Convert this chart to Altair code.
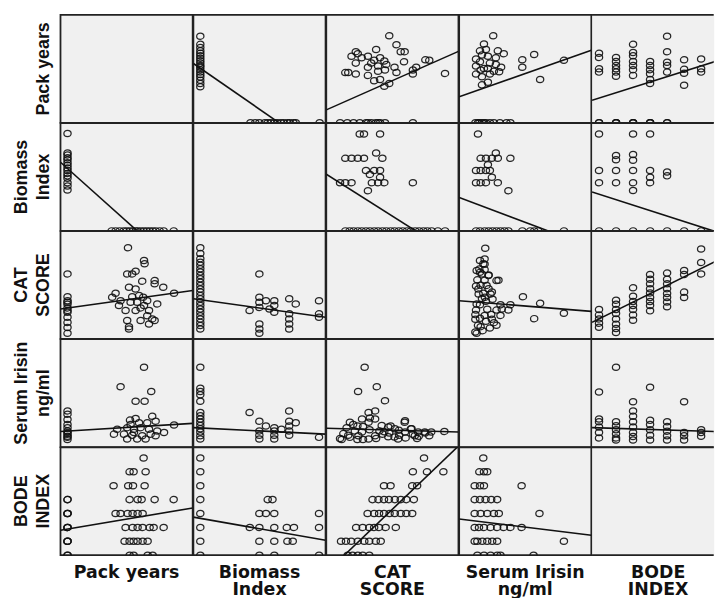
import altair as alt
import pandas as pd

# ---------------- values ----------------
VARS = ["P", "B", "C", "I", "D"]
LABELS = {
    "P": ["Pack years"],
    "B": ["Biomass", "Index"],
    "C": ["CAT", "SCORE"],
    "I": ["Serum Irisin", "ng/ml"],
    "D": ["BODE", "INDEX"],
}

# shown value range of each variable (vertical / horizontal use)
Y_DOMAIN = {"P": [0, 66], "B": [0, 221.6], "C": [0.9, 41.2], "I": [0, 20], "D": [0, 7.77]}
X_DOMAIN = {"P": [-3.5, 62.5], "B": [-11.6, 210], "C": [-1.2, 39.1], "I": [-1.05, 18.95], "D": [-0.41, 7.36]}
X_DOMAIN_LAST_VISIBLE = [-0.41, 6.74]   # right column is cut by the picture edge

# --- Pack years vs Biomass index
NONSMOKER_BIOMASS = [200, 160, 156, 150, 146, 140, 135, 129, 124, 118, 113, 108, 99, 92, 84]
SMOKER_PACK = [22, 24, 26, 28, 29.5, 31, 32.5, 34, 35, 36.5, 38, 39.5, 41, 42.5, 44, 46, 48, 53]

# --- Pack years vs CAT
NONSMOKER_CAT = [25.2, 16.7, 15.2, 13.9, 12.5, 10.9, 9.0, 7.1, 5.2, 3.0, 14.6, 11.5]
PC_PACK = [30.2, 38.2, 38.5, 29.8, 32.3, 34, 37.3, 43.5, 43.5, 47.8, 30.7, 34, 24, 22.3, 26.5,
           32.3, 35.7, 37.8, 39.8, 34.8, 31.5, 25.7, 29, 34, 36.5, 40.7, 39.8, 42.3, 43.5, 29.8,
           36.5, 40.7, 30.7, 30.7, 53.2, 44.8, 38.2]
PC_CAT = [35, 30.2, 29, 25.2, 25.2, 26.2, 22.5, 22.7, 21.5, 20.2, 20.2, 19.6, 18, 16.5, 15.2,
          16.7, 17.1, 16.5, 15.2, 14.6, 14.6, 13.4, 11.5, 11.5, 12.5, 11.5, 9.6, 8.4, 7.8, 7.8,
          7.8, 6.5, 5.5, 4.6, 18, 14, 13.4]

# --- Pack years vs Irisin
NONSMOKER_IRISIN = [6.7, 6.1, 5.1, 4.2, 3.6, 3.0, 2.4, 1.8, 1.4, 2.0, 2.7]
PI_PACK = [38.2, 26.5, 41.8, 34, 38.5, 31.2, 34, 42.3, 53.2, 35.7, 39.8, 44, 24.8, 29.8, 33.2,
           36.5, 40.7, 44.8, 48.2, 23.2, 28.2, 32.3, 37.3, 41.5, 44, 29.8, 34.8, 39, 33.2, 31.5]
PI_IRISIN = [14.8, 11.2, 10.3, 8.5, 8.5, 5.0, 5.3, 5.7, 4.1, 4.5, 4.5, 4.8, 3.3, 3.6, 3.3,
             3.6, 3.3, 3.0, 2.7, 2.4, 2.4, 2.2, 2.1, 2.4, 2.1, 1.5, 1.5, 1.5, 2.7, 4.2]

# --- Pack years vs BODE
NONSMOKER_BODE = [4, 4, 3, 3, 3, 2, 2, 2, 1, 1, 1, 0, 0]
PD_PACK = [38, 31, 33, 39, 23, 30.3, 32.7, 38.5, 31, 35, 37, 43.5, 53, 24, 26.5, 30, 32.5, 35,
           37.5, 29, 32.5, 35, 37.5, 41, 43, 48, 28.5, 31, 33, 35, 37.5, 40, 31, 33, 40, 42.5]
PD_BODE = [7, 6, 6, 6, 5, 5, 5, 5, 4, 4, 4, 4, 4, 3, 3, 3, 3, 3, 3, 2, 2, 2, 2, 2, 2, 2,
           1, 1, 1, 1, 1, 1, 0, 0, 0, 0]

# --- Biomass vs CAT
BC_BIOMASS = [99, 82.6, 99, 99, 99, 110, 124, 124, 124, 99, 99, 99, 149, 160, 149, 149, 149, 149,
              199, 199, 199, 116]
BC_CAT = [25.2, 11.5, 16.5, 14.6, 12.7, 15.2, 15.2, 13.4, 10.9, 6.5, 4.6, 3.0, 15.9, 14, 10.3, 8.4,
          6.5, 4.6, 15.2, 10.3, 9.0, 12.1]
SMOKER_CAT = [35, 32.8, 30.9, 29.6, 28.4, 27.1, 25.9, 24.6, 23.4, 22.1, 20.9, 19.6, 18.4, 17.1,
              15.9, 14.6, 13.4, 12.1, 10.9, 9.6, 8.4, 7.1, 5.9, 4.6]

# --- Biomass vs Irisin
BI_BIOMASS = [82.6, 99, 110, 124, 99, 99, 99, 124, 124, 124, 149, 149, 149, 149, 149, 160, 199, 136]
BI_IRISIN = [6.4, 4.8, 3.9, 3.6, 3.0, 2.2, 1.5, 3.0, 2.2, 1.5, 6.7, 4.8, 3.9, 3.0, 2.2, 4.5, 1.8, 3.3]
SMOKER_IRISIN = [14.8, 10.9, 10.3, 9.7, 8.5, 6.4, 5.8, 5.2, 4.6, 4.0, 3.4, 2.8, 2.1, 1.5]

# --- Biomass vs BODE
BD_BIOMASS = [113, 121, 99, 110, 124, 199, 83, 99, 124, 145, 157, 199, 99, 124, 146, 155, 99, 124, 199]
BD_BODE = [4, 4, 3, 3, 3, 3, 2, 2, 2, 2, 2, 2, 1, 1, 1, 1, 0, 0, 0]
SMOKER_BODE = [0, 1, 2, 3, 4, 5, 6, 7]

# --- CAT vs Irisin
CI_CAT = [10.5, 14.2, 8.5, 16.7, 11.7, 13.7, 9.7, 11.7, 13.7, 15.7, 17.7, 19.7, 22.8, 24.8, 26.8,
          28.8, 30.8, 34.8, 25.8, 22.8, 17.7, 13.7, 9.7, 11.7, 20.7, 8.6, 4, 5, 6, 7, 5.5, 3, 7.5,
          30.2, 29, 26.5, 25.2, 24.6, 22.7, 6, 3.5, 8.3, 8.3, 12.1, 16.5, 18.4, 19.6, 20.9,
          10, 14, 16, 12, 18, 21, 15, 10, 23, 27]
CI_IRISIN = [14.8, 11.2, 10.3, 8.6, 6.4, 6.7, 5.2, 4.6, 5.2, 4.0, 3.7, 3.4, 4.9, 3.4, 2.8,
             2.8, 2.8, 2.9, 2.1, 2.8, 1.9, 2.1, 2.8, 1.5, 1.5, 2.1, 2.5, 3.6, 1.8, 4.2, 2.2, 1.6, 3.0,
             2.1, 2.6, 1.6, 2.4, 3.4, 4.6, 4.6, 1.4, 1.4, 3.9, 5.4, 2.85, 3.9, 1.85, 3.1,
             1.4, 1.6, 2.4, 3.2, 2.6, 2.2, 3.0, 3.8, 1.7, 2.0]

# --- CAT vs BODE
CD_CAT = [28.6, 25.2, 29.5, 34.5, 16.4, 18.4, 25, 26.5, 12.9, 14.7, 16.4, 17.9, 19.7, 21.5, 23.2,
          25.5, 11.4, 13.4, 14.9, 16.4, 18.1, 19.7, 21.5, 23.2, 25, 7.9, 9.9, 11.9, 13.4, 14.9,
          16.9, 20, 3.3, 4.8, 6.4, 8.4, 10.4, 11.9, 13.9, 15.4, 5.3, 6.8, 8.4, 9.9, 11.9]
CD_BODE = [7, 6, 6, 6, 5, 5, 5, 5, 4, 4, 4, 4, 4, 4, 4, 4, 3, 3, 3, 3, 3, 3, 3, 3, 3,
           2, 2, 2, 2, 2, 2, 2, 1, 1, 1, 1, 1, 1, 1, 1, 0, 0, 0, 0, 0]

# --- Irisin vs BODE
ID_IRISIN = [2.6, 2.0, 2.7, 3.2, 1.3, 2.1, 2.7, 8.4, 1.3, 2.1, 2.95, 3.8, 4.7, 1.3, 2.2, 3.2, 4.2,
             4.95, 11.1, 1.3, 1.95, 2.7, 3.7, 4.7, 5.7, 6.7, 8.4, 1.3, 1.7, 2.45, 3.2, 3.95, 4.7,
             14.8, 1.7, 2.7, 3.7, 4.7, 5.2, 10.2]
ID_BODE = [7, 6, 6, 6, 5, 5, 5, 5, 4, 4, 4, 4, 4, 3, 3, 3, 3, 3, 3, 2, 2, 2, 2, 2, 2, 2, 2,
           1, 1, 1, 1, 1, 1, 1, 0, 0, 0, 0, 0, 0]

# fitted lines: (row variable, column variable) -> row value at left / right end of column range
LINES = {
    ("P", "B"): [36.3, -19.7], ("P", "C"): [7.9, 43.7], ("P", "I"): [15.9, 44.3], ("P", "D"): [13.8, 39.2],
    ("B", "P"): [141, -102], ("B", "C"): [116.6, -55.8], ("B", "I"): [68.7, -33.5], ("B", "D"): [80, -7.3],
    ("C", "P"): [12.1, 19], ("C", "B"): [15.9, 9], ("C", "I"): [15.2, 11.2], ("C", "D"): [7.1, 31.5],
    ("I", "P"): [2.9, 4.4], ("I", "B"): [3.6, 2.4], ("I", "C"): [3.5, 2.8], ("I", "D"): [3.6, 2.84],
    ("D", "P"): [1.79, 3.4], ("D", "B"): [2.74, 1.07], ("D", "C"): [-1.25, 7.86], ("D", "I"): [2.6, 1.43],
}

# pair tables (first variable, second variable)
PAIRS = {
    ("P", "B"): ([0] * len(NONSMOKER_BIOMASS) + SMOKER_PACK, NONSMOKER_BIOMASS + [0] * len(SMOKER_PACK)),
    ("P", "C"): ([0] * len(NONSMOKER_CAT) + PC_PACK, NONSMOKER_CAT + PC_CAT),
    ("P", "I"): ([0] * len(NONSMOKER_IRISIN) + PI_PACK, NONSMOKER_IRISIN + PI_IRISIN),
    ("P", "D"): ([0] * len(NONSMOKER_BODE) + PD_PACK, NONSMOKER_BODE + PD_BODE),
    ("B", "C"): (BC_BIOMASS + [0] * len(SMOKER_CAT), BC_CAT + SMOKER_CAT),
    ("B", "I"): (BI_BIOMASS + [0] * len(SMOKER_IRISIN), BI_IRISIN + SMOKER_IRISIN),
    ("B", "D"): (BD_BIOMASS + [0] * len(SMOKER_BODE), BD_BODE + SMOKER_BODE),
    ("C", "I"): (CI_CAT, CI_IRISIN),
    ("C", "D"): (CD_CAT, CD_BODE),
    ("I", "D"): (ID_IRISIN, ID_BODE),
}

# ---------------- layout / style ----------------
W, W_LAST, H = 133.3, 122.7, 108.8
LABEL_W, LABEL_H = 60, 41
LEFT_LINE_H = 21.5
BG, BORDER, INK = "#f0f0f0", "#222222", "#111111"
ELLIPSE = "M-1,0A1,0.86,0,1,1,1,0A1,0.86,0,1,1,-1,0Z"
NOVIEW = alt.ViewBackground(fill="transparent", stroke="transparent")


def pair_xy(rv, cv):
    if (rv, cv) in PAIRS:
        yv, xv = PAIRS[(rv, cv)]
    else:
        xv, yv = PAIRS[(cv, rv)]
    return xv, yv


def cell(r, c):
    rv, cv = VARS[r], VARS[c]
    last = c == len(VARS) - 1
    w = W_LAST if last else W
    xs = alt.Scale(domain=X_DOMAIN_LAST_VISIBLE if last else X_DOMAIN[cv], nice=False, zero=False)
    ys = alt.Scale(domain=Y_DOMAIN[rv], nice=False, zero=False)
    layers = []
    if r != c:
        xv, yv = pair_xy(rv, cv)
        pts = alt.Chart(pd.DataFrame({"x": xv, "y": yv})).mark_point(
            shape=ELLIPSE, filled=False, size=54, strokeWidth=1.25, color=INK, opacity=0.9, clip=True
        ).encode(x=alt.X("x:Q", scale=xs, axis=None), y=alt.Y("y:Q", scale=ys, axis=None))
        ldf = pd.DataFrame({"x": X_DOMAIN[cv], "y": LINES[(rv, cv)]})
        ln = alt.Chart(ldf).mark_line(color=INK, strokeWidth=1.6, clip=True).encode(
            x=alt.X("x:Q", scale=xs, axis=None), y=alt.Y("y:Q", scale=ys, axis=None))
        layers += [pts, ln]
    else:
        layers.append(alt.Chart(pd.DataFrame({"x": [0]})).mark_point(opacity=0, size=1).encode(
            x=alt.value(1), y=alt.value(1)))
    if last:
        one = pd.DataFrame({"x": [0]})
        layers.append(alt.Chart(one).mark_rule(color=BORDER, strokeWidth=1.8).encode(
            x=alt.value(0), x2=alt.value(w), y=alt.value(0)))
        layers.append(alt.Chart(one).mark_rule(color=BORDER, strokeWidth=1.8).encode(
            x=alt.value(0), x2=alt.value(w), y=alt.value(H)))
        view = alt.ViewBackground(fill=BG, stroke="transparent")
    else:
        view = alt.ViewBackground(fill=BG, stroke=BORDER, strokeWidth=1.8)
    return alt.layer(*layers).properties(width=w, height=H, view=view)


def left_label(v):
    lines = LABELS[v]
    anchor_x = 52 - LEFT_LINE_H * (len(lines) - 1)
    return alt.Chart(pd.DataFrame({"t": [0]})).mark_text(
        text=lines, angle=270, align="center", baseline="bottom", font="Liberation Sans",
        fontSize=18, fontWeight="bold", lineHeight=LEFT_LINE_H, color=INK
    ).encode(x=alt.value(anchor_x), y=alt.value(H / 2)).properties(width=LABEL_W, height=H, view=NOVIEW)


def bottom_label(i, v):
    w = W_LAST if i == len(VARS) - 1 else W
    return alt.Chart(pd.DataFrame({"t": [0]})).mark_text(
        text=LABELS[v], align="center", baseline="top", font="DejaVu Sans",
        fontSize=17.5, fontWeight="bold", lineHeight=17, color=INK
    ).encode(x=alt.value(W / 2), y=alt.value(8.5)).properties(width=w, height=LABEL_H, view=NOVIEW)


spacer = alt.Chart(pd.DataFrame({"t": [0]})).mark_point(opacity=0, size=1).encode(
    x=alt.value(1), y=alt.value(1)).properties(width=LABEL_W, height=LABEL_H, view=NOVIEW)

panels = []
for r, rv in enumerate(VARS):
    panels.append(left_label(rv))
    panels.extend(cell(r, c) for c in range(len(VARS)))
panels.append(spacer)
panels.extend(bottom_label(i, v) for i, v in enumerate(VARS))

chart = alt.concat(*panels, columns=6, spacing=0, bounds="flush").properties(
    padding={"left": 0, "top": 10.5, "right": 0, "bottom": 0}, background="white"
)

chart.save("out.html", embed_options={"renderer": "svg", "actions": False})
